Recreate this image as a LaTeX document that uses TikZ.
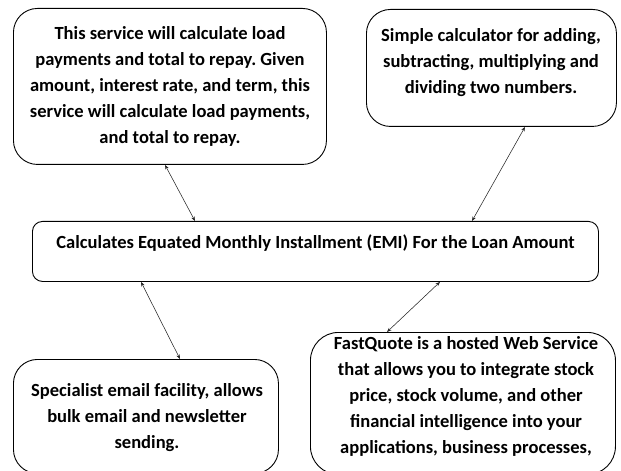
\documentclass[tikz,border=0pt]{standalone}
\usepackage{fontspec}
\setmainfont{Carlito}
\usetikzlibrary{arrows.meta,calc}
\frenchspacing
\begin{document}
\begin{tikzpicture}[x=1bp,y=-1bp,
  box/.style={draw=black, line width=0.9bp, rounded corners=24bp, inner sep=0pt},
  txt/.style={font=\bfseries\fontsize{18.6}{26.2}\selectfont, align=center, inner sep=0pt, anchor=north},
  link/.style={{Stealth[length=4.5bp,width=3.5bp]}-{Stealth[length=4.5bp,width=3.5bp]}, line width=0.55bp, draw=black!85}]
\useasboundingbox (0,0) rectangle (621,471);
\begin{scope}
\clip (0,0) rectangle (621,471);
\node[box, anchor=north west, minimum width=313bp, minimum height=156bp] (b1) at (13,8) {};
\node[box, anchor=north west, minimum width=250bp, minimum height=117bp] (b2) at (366,9) {};
\node[box, rounded corners=10bp, anchor=north west, inner xsep=0pt, inner ysep=0pt,
      minimum width=566bp, text height=27bp, text depth=33bp, font=\bfseries\fontsize{18.6}{26.2}\selectfont] (b3) at (32,221)
  {Calculates Equated Monthly Installment (EMI) For the Loan Amount};
\node[box, anchor=north west, minimum width=265bp, minimum height=114bp] (b4) at (13,359) {};
\node[box, rounded corners=28bp, anchor=north west, minimum width=305bp, minimum height=142bp] (b5) at (310,332) {};

\node[txt] (t1) at (170,26) {This service will calculate load\\payments and total to repay. Given\\amount, interest rate, and term, this\\service will calculate load payments,\\and total to repay.};
\node[txt] (t2) at (491,28) {Simple calculator for adding,\\subtracting, multiplying and\\dividing two numbers.};
\node[txt] (t4) at (147,383) {Specialist email facility, allows\\bulk email and newsletter\\sending.};
\node[txt] (t5) at (466,336) {FastQuote is a hosted Web Service\\that allows you to integrate stock\\price, stock volume, and other\\financial intelligence into your\\applications, business processes,};

\draw[link] ($(b1.south west)+(152,0)$) -- ($(b3.north west)+(163,0)$);
\draw[link] ($(b2.south west)+(159,0)$) -- ($(b3.north west)+(440,0)$);
\draw[link] ($(b3.south west)+(109,0)$) -- ($(b4.north west)+(167,0)$);
\draw[link] ($(b3.south west)+(408,0)$) -- ($(b5.north west)+(77,0)$);
\end{scope}
\end{tikzpicture}
\end{document}
